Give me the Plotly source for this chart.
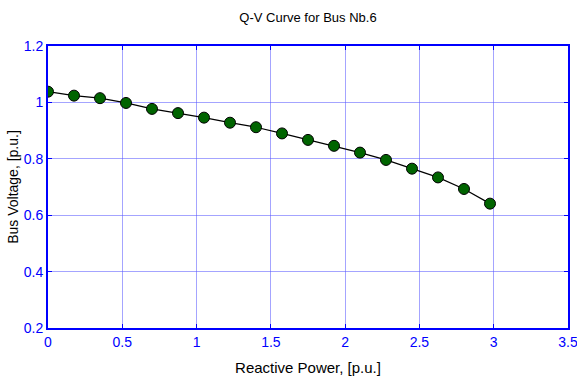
import plotly.graph_objects as go

# Q-V curve samples for bus No.6
reactive_power = [0.0, 0.175, 0.35, 0.525, 0.7, 0.875, 1.05, 1.225, 1.4,
                  1.575, 1.75, 1.925, 2.1, 2.275, 2.45, 2.625, 2.8, 2.975]
bus_voltage = [1.038, 1.024, 1.015, 0.998, 0.977, 0.962, 0.946, 0.928, 0.912,
               0.890, 0.867, 0.846, 0.822, 0.796, 0.765, 0.734, 0.693, 0.641]

x_ticks = [0, 0.5, 1, 1.5, 2, 2.5, 3, 3.5]
x_tick_labels = ["0", "0.5", "1", "1.5", "2", "2.5", "3", "3.5"]
y_ticks = [0.2, 0.4, 0.6, 0.8, 1.0, 1.2]
y_tick_labels = ["0.2", "0.4", "0.6", "0.8", "1", "1.2"]

narrow = "Liberation Sans Narrow, Arial Narrow, Liberation Sans, sans-serif"
blue = "#0000ff"

fig = go.Figure()
fig.add_trace(go.Scatter(
    x=reactive_power, y=bus_voltage, mode="lines+markers",
    line=dict(color="black", width=1.2),
    marker=dict(size=11, color="#006400", line=dict(color="black", width=1)),
    showlegend=False,
))

axis_common = dict(
    showline=True, linecolor=blue, linewidth=2, mirror="ticks",
    ticks="inside", ticklen=4, tickcolor=blue, tickwidth=1,
    showgrid=True, gridcolor="rgba(90,90,255,0.55)", gridwidth=1, griddash="solid",
    zeroline=False, automargin=False, ticklabeloverflow="allow",
    tickfont=dict(family=narrow, size=14, color=blue),
)

fig.update_xaxes(
    range=[0, 3.5], tickvals=x_ticks, ticktext=x_tick_labels,
    title=dict(text="Reactive Power, [p.u.]", font=dict(family=narrow, size=15, color="black"), standoff=14),
    **axis_common,
)
fig.update_yaxes(
    range=[0.2, 1.2], tickvals=y_ticks, ticktext=y_tick_labels,
    title=dict(text="Bus Voltage, [p.u.]", font=dict(family="Liberation Sans, Arial, sans-serif", size=14, color="black"), standoff=2),
    **axis_common,
)

fig.update_layout(
    width=577, height=381,
    margin=dict(l=48, r=9, t=46, b=53),
    paper_bgcolor="white", plot_bgcolor="white",
    title=dict(text="Q-V Curve for Bus Nb.6", x=(48 + 568) / 2 / 577, xanchor="center",
               y=1 - 17 / 381, yanchor="middle",
               font=dict(family=narrow, size=13, color="black")),
)

fig.write_html("out.html")
